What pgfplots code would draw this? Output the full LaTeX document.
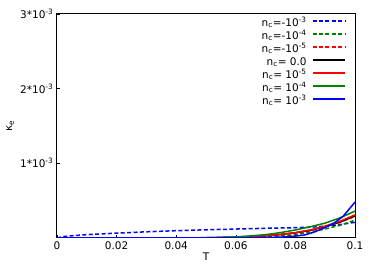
\documentclass[border=0pt]{standalone}
\usepackage{pgfplots}
\pgfplotsset{compat=1.18}
\usepackage{fontspec}
\setmainfont{DejaVu Sans}
\definecolor{mblue}{rgb}{0,0,1}
\definecolor{mgreen}{rgb}{0,0.5,0}
\definecolor{mred}{rgb}{1,0,0}
\begin{document}
\fontsize{10.5pt}{12pt}\selectfont
\begin{tikzpicture}
\begin{axis}[
  scale only axis,
  width=298pt, height=224pt,
  at={(0,0)}, anchor=south west,
  xmin=0, xmax=0.1, ymin=0, ymax=0.003,
  axis line style={line width=1pt},
  xtick={0,0.02,0.04,0.06,0.08,0.1},
  xticklabels={0,0.02,0.04,0.06,0.08,0.1},
  ytick={0.001,0.002,0.003},
  yticklabels={1*10\textsuperscript{-3},2*10\textsuperscript{-3},3*10\textsuperscript{-3}},
  scaled ticks=false,
  tick align=inside,
  xtick pos=bottom, ytick pos=left,
  major tick length=3pt,
  tick style={black, line width=0.6pt},
  /pgf/number format/assume math mode=true,
  xlabel={T},
  ylabel={κ\textsubscript{e}},
  xlabel style={yshift=4pt},
  ylabel style={yshift=-1pt},
  legend style={draw=none, fill=none, at={(1,1)}, anchor=north east, xshift=-9pt, yshift=-3pt,
    inner sep=0pt, row sep=0pt, column sep=4pt,
    nodes={inner sep=1pt, text height=8pt, text depth=3pt},
    font=\fontsize{10.5pt}{12pt}\selectfont},
  legend cell align=right,
  legend plot pos=right,
  legend image code/.code={\draw[#1, line width=2pt] (0cm,0.3em) -- (1.13cm,0.3em);},
]
\addplot[color=mblue, dash pattern=on 4pt off 2.4pt, line width=1.5pt] coordinates {
(0,0) (0.002,0.000018) (0.005,0.00003) (0.01,0.000045) (0.02,0.000065) (0.03,0.000083) (0.04,0.000098) (0.05,0.00011) (0.06,0.00012) (0.07,0.00013) (0.08,0.000138) (0.085,0.000145) (0.09,0.000158) (0.095,0.00018) (0.1,0.00021)};
\addlegendentry{n\textsubscript{c}=-10\textsuperscript{-3}}
\addplot[color=mgreen, dash pattern=on 4pt off 2.4pt, line width=1.5pt] coordinates {
(0,0) (0.04,0.0000005) (0.05,0.000002) (0.06,0.000006) (0.065,0.00001) (0.07,0.000017) (0.075,0.000028) (0.08,0.000045) (0.085,0.00008) (0.09,0.00012) (0.095,0.00017) (0.1,0.00024)};
\addlegendentry{n\textsubscript{c}=-10\textsuperscript{-4}}
\addplot[color=mred, dash pattern=on 4pt off 2.4pt, line width=1.5pt] coordinates {
(0,0) (0.04,0.0000005) (0.05,0.000003) (0.06,0.00001) (0.065,0.000018) (0.07,0.00003) (0.075,0.000046) (0.08,0.000068) (0.085,0.0001) (0.09,0.00015) (0.095,0.00021) (0.1,0.00029)};
\addlegendentry{n\textsubscript{c}=-10\textsuperscript{-5}}
\addplot[color=black, solid, line width=1.5pt] coordinates {
(0,0) (0.04,0.0000005) (0.05,0.000003) (0.06,0.00001) (0.065,0.000018) (0.07,0.00003) (0.075,0.000047) (0.08,0.00007) (0.085,0.000103) (0.09,0.000153) (0.095,0.000215) (0.1,0.000295)};
\addlegendentry{n\textsubscript{c}= 0.0}
\addplot[color=mred, solid, line width=1.5pt] coordinates {
(0,0) (0.04,0.0000005) (0.05,0.000003) (0.06,0.00001) (0.065,0.000019) (0.07,0.000031) (0.075,0.000048) (0.08,0.000072) (0.085,0.000108) (0.09,0.00016) (0.095,0.000225) (0.1,0.00031)};
\addlegendentry{n\textsubscript{c}= 10\textsuperscript{-5}}
\addplot[color=mgreen, solid, line width=1.5pt] coordinates {
(0,0) (0.04,0.0000008) (0.05,0.000004) (0.055,0.000008) (0.06,0.000015) (0.065,0.000028) (0.07,0.000045) (0.075,0.000072) (0.08,0.000108) (0.085,0.00015) (0.09,0.0002) (0.095,0.00027) (0.1,0.00036)};
\addlegendentry{n\textsubscript{c}= 10\textsuperscript{-4}}
\addplot[color=mblue, solid, line width=1.5pt] coordinates {
(0,0) (0.06,0) (0.065,0.000002) (0.07,0.000005) (0.075,0.000011) (0.08,0.000025) (0.083,0.00004) (0.086,0.000075) (0.09,0.00014) (0.093,0.0002) (0.096,0.00029) (0.1,0.00048)};
\addlegendentry{n\textsubscript{c}= 10\textsuperscript{-3}}
\end{axis}
\path (-57pt,-42pt) rectangle (317pt,238pt);
\end{tikzpicture}
\end{document}
